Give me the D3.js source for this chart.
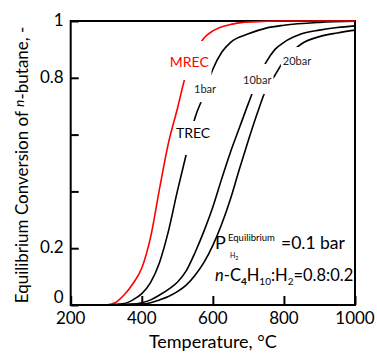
<!DOCTYPE html>
<html><head><meta charset="utf-8">
<script src="https://cdn.jsdelivr.net/npm/d3@7"></script>
<style>
body{margin:0;background:#fff;}
svg{font-family:Lato,"Open Sans",sans-serif;}
</style></head>
<body>
<svg id="chart" width="377" height="356"></svg>
<script>
const mrecT = [300,325,350,375,400,425,450,475,500,525,550,575,600,650,700,800,900,1000];
const mrecV = [0,0.008,0.035,0.075,0.13,0.24,0.41,0.57,0.69,0.815,0.89,0.94,0.965,0.988,0.997,1,1,1];

const bar1T = [300,350,375,400,425,450,475,500,525,550,575,600,625,650,700,750,800,900,1000];
const bar1V = [0,0.005,0.018,0.04,0.08,0.15,0.26,0.40,0.53,0.66,0.74,0.83,0.89,0.925,0.955,0.975,0.985,0.995,0.999];

const bar10T = [300,375,400,425,450,475,500,525,550,575,600,625,650,675,700,725,750,775,800,850,900,950,1000];
const bar10V = [0,0.003,0.008,0.018,0.035,0.055,0.08,0.12,0.185,0.26,0.345,0.445,0.54,0.625,0.71,0.79,0.855,0.9,0.925,0.955,0.968,0.977,0.983];

const bar20T = [300,400,425,450,475,500,525,550,575,600,625,650,675,700,725,750,775,800,825,850,900,950,1000];
const bar20V = [0,0.003,0.008,0.018,0.03,0.047,0.07,0.105,0.15,0.21,0.285,0.375,0.48,0.58,0.675,0.76,0.81,0.86,0.895,0.92,0.945,0.958,0.968];

const xTicks = [200,400,600,800,1000];
const yTicks = [0,0.2,0.4,0.6,0.8,1];
const yTickLabels = ["0","0.2","","","0.8","1"];

// curve labels
const labelText = ["MREC","TREC","1bar","10bar","20bar"];
const labelT = [479,496,547,685,797];
const labelV = [0.838,0.588,0.746,0.778,0.845];

const svg = d3.select("#chart");
const x = d3.scaleLinear().domain([200,1000]).range([70.7,355]);
const y = d3.scaleLinear().domain([0,1]).range([305,21]);

const series = [
  {T:mrecT,V:mrecV,color:"#ff0000"},
  {T:bar1T,V:bar1V,color:"#000"},
  {T:bar10T,V:bar10V,color:"#000"},
  {T:bar20T,V:bar20V,color:"#000"}
];
const line = d3.line().x(d=>x(d[0])).y(d=>y(d[1])).curve(d3.curveMonotoneX);

series.forEach(s=>{
  svg.append("path").datum(s.T.map((t,i)=>[t,s.V[i]]))
    .attr("d",line).attr("fill","none").attr("stroke",s.color).attr("stroke-width",1.6);
});

const labelColor = ["#ff0000","#000","#222","#222","#222"];
const labelSize = [14,14,11,11,11];
const gapPad = [[2,12,10,2],[1,3,14,3],[2,7,7,2],[2,9,8,2],[2,7,7,2]];
labelText.forEach((t,i)=>{
  const tx = svg.append("text").attr("x",x(labelT[i])).attr("y",y(labelV[i]))
    .attr("font-size",labelSize[i]).attr("fill",labelColor[i]).text(t);
  const bb = tx.node().getBBox();
  const p = gapPad[i];
  svg.insert("rect","text").attr("x",bb.x-p[0]).attr("y",bb.y-p[1])
    .attr("width",bb.width+p[0]+p[3]).attr("height",bb.height+p[1]+p[2]).attr("fill","#fff");
});

// frame
svg.append("rect").attr("x",x(200)).attr("y",y(1)).attr("width",x(1000)-x(200)).attr("height",y(0)-y(1))
  .attr("fill","none").attr("stroke","#000").attr("stroke-width",2);
svg.append("path").datum(mrecT.map((t,i)=>[t,mrecV[i]]).filter(d=>d[0]>=650))
  .attr("d",line).attr("fill","none").attr("stroke","#ff0000").attr("stroke-width",1.4);

// axes with inward ticks
const xAxis = svg.append("g").attr("transform",`translate(0,${y(0)})`)
  .call(d3.axisTop(x).tickValues(xTicks).tickSize(9).tickFormat(""));
xAxis.select(".domain").remove();
xAxis.selectAll("line").attr("stroke-width",2);
svg.append("g").selectAll("text").data(xTicks).join("text")
  .attr("x",d=>x(d)).attr("y",y(0)+19).attr("text-anchor","middle").attr("font-size",17).text(d=>d);

const yAxis = svg.append("g").attr("transform",`translate(${x(200)},0)`)
  .call(d3.axisRight(y).tickValues(yTicks).tickSize(8).tickFormat(""));
yAxis.select(".domain").remove();
yAxis.selectAll("line").attr("stroke-width",2);
svg.append("g").selectAll("text").data(yTicks).join("text")
  .attr("x",x(200)-7).attr("y",d=>y(d)+(d===0?-2:5)).attr("text-anchor","end").attr("font-size",17)
  .text((d,i)=>yTickLabels[i]);

// axis titles
svg.append("text").attr("x",(x(200)+x(1000))/2).attr("y",348).attr("text-anchor","middle")
  .attr("font-size",18).text("Temperature, °C");
const yl = svg.append("text").attr("transform","translate(28,165) rotate(-90)")
  .attr("text-anchor","middle").attr("font-size",17);
yl.append("tspan").text("Equilibrium Conversion of ");
yl.append("tspan").attr("font-style","italic").attr("font-size",14).attr("dy",-4).text("n");
yl.append("tspan").attr("dy",4).text("-butane, -");

// annotation 1
svg.append("text").attr("x",215).attr("y",249).attr("font-size",18).text("P");
svg.append("text").attr("x",228).attr("y",241).attr("font-size",9.5).text("Equilibrium");
const h2 = svg.append("text").attr("x",230).attr("y",258).attr("font-size",7);
h2.append("tspan").text("H");
h2.append("tspan").attr("font-size",5.5).attr("dy",1.5).text("2");
svg.append("text").attr("x",281).attr("y",249).attr("font-size",17.5).text("=0.1 bar");

// annotation 2
const a2 = svg.append("text").attr("x",215).attr("y",281).attr("font-size",16.5);
a2.append("tspan").attr("font-style","italic").text("n");
a2.append("tspan").text("-C");
a2.append("tspan").attr("font-size",10).attr("font-weight","bold").attr("dy",4).text("4");
a2.append("tspan").attr("dy",-4).text("H");
a2.append("tspan").attr("font-size",10).attr("dy",4).text("10");
a2.append("tspan").attr("dy",-4).text(":H");
a2.append("tspan").attr("font-size",10).attr("dy",4).text("2");
a2.append("tspan").attr("dy",-4).text("=0.8:0.2");
</script>
</body></html>
